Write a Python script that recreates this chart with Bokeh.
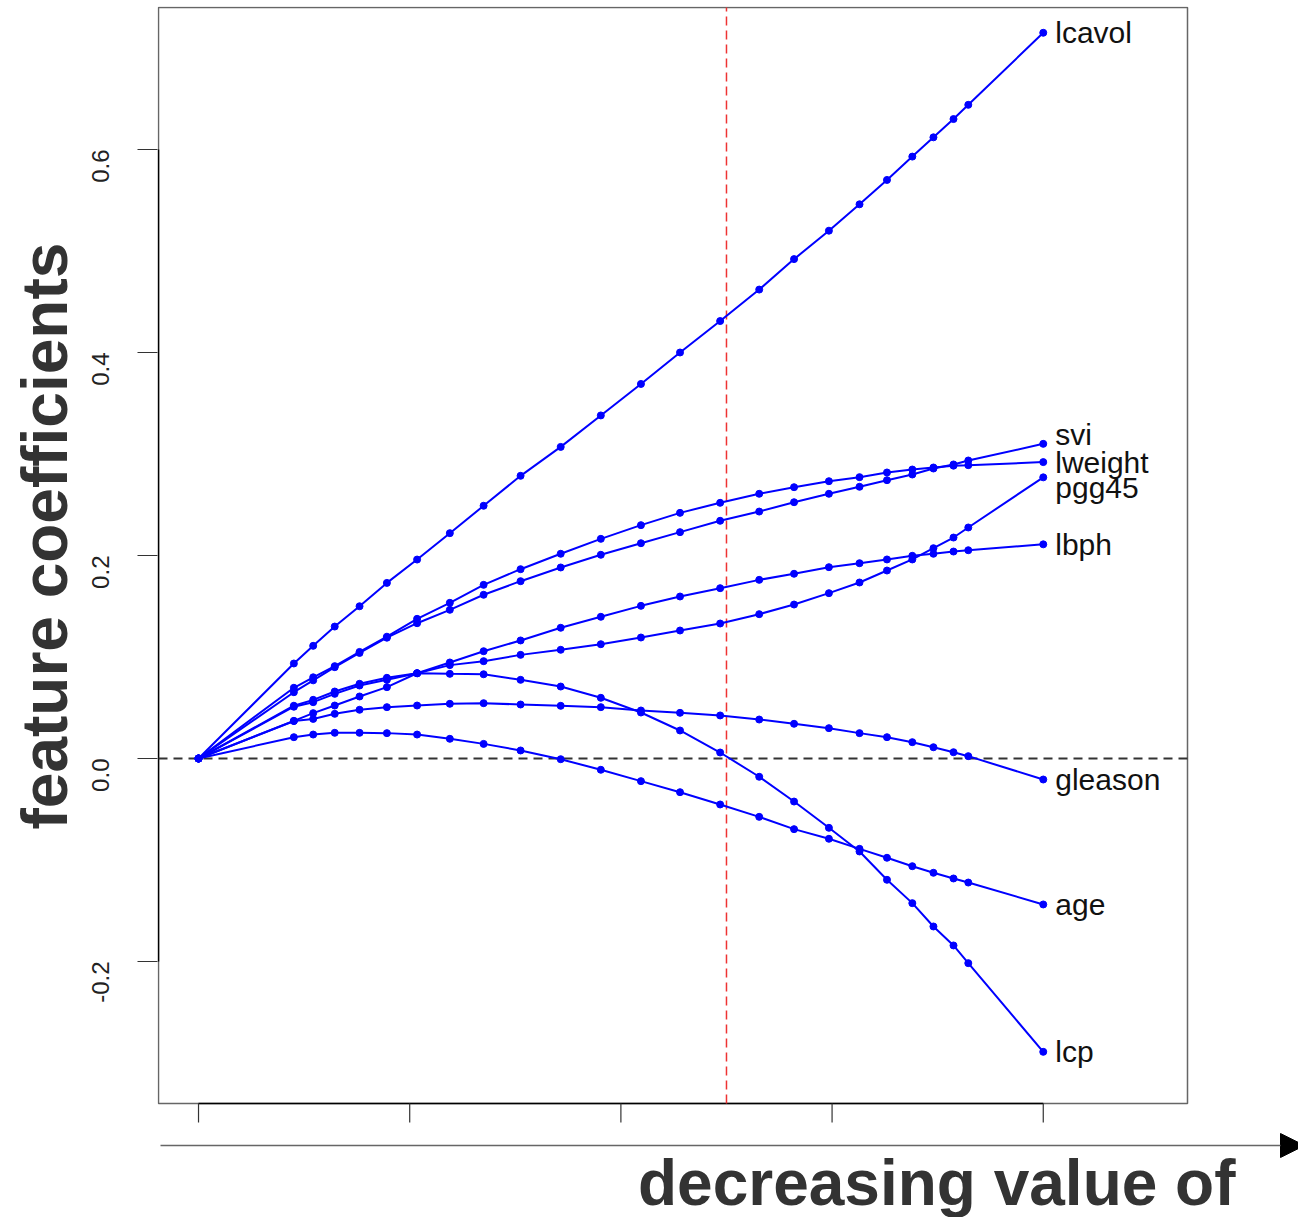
import math
from bokeh.plotting import figure
from bokeh.models import (Range1d, FixedTicker, PrintfTickFormatter, Title,
                          Arrow, NormalHead)
from bokeh.core.properties import value
from bokeh.embed import file_html
from bokeh.resources import INLINE

# effective degrees of freedom at each ridge step
df = [0, 0.903, 1.086, 1.29, 1.525, 1.784, 2.07, 2.38, 2.70, 3.05, 3.43, 3.81,
      4.19, 4.56, 4.94, 5.31, 5.64, 5.97, 6.26, 6.52, 6.76, 6.96, 7.15, 7.29, 8.0]

lcavol = [0, 0.0936, 0.111, 0.130, 0.150, 0.173, 0.196, 0.222, 0.249, 0.2785, 0.307, 0.338,
          0.369, 0.400, 0.431, 0.462, 0.492, 0.520, 0.546, 0.570, 0.593, 0.612, 0.630, 0.644, 0.715]
svi = [0, 0.0653, 0.077, 0.090, 0.104, 0.119, 0.1333, 0.1465, 0.1613, 0.1747, 0.1882, 0.2007,
       0.2121, 0.2230, 0.2342, 0.2433, 0.2525, 0.2608, 0.2677, 0.2742, 0.2798, 0.2857, 0.2897, 0.2936, 0.310]
lweight = [0, 0.0697, 0.080, 0.091, 0.105, 0.120, 0.1376, 0.1534, 0.1711, 0.1865, 0.2017, 0.2164,
           0.2299, 0.2420, 0.2519, 0.2608, 0.2673, 0.2732, 0.2772, 0.2818, 0.2847, 0.2867, 0.2885, 0.289, 0.292]
pgg45 = [0, 0.051, 0.0555, 0.0637, 0.0719, 0.0775, 0.084, 0.092, 0.0959, 0.1021, 0.1071, 0.1126,
         0.1192, 0.1261, 0.1330, 0.1422, 0.1517, 0.1629, 0.1734, 0.1852, 0.1961, 0.2072, 0.2177, 0.2276, 0.277]
lbph = [0, 0.037, 0.0447, 0.0522, 0.0611, 0.0703, 0.084, 0.0946, 0.1057, 0.1163, 0.1288, 0.1396,
        0.1504, 0.1596, 0.1678, 0.1760, 0.1820, 0.1885, 0.1924, 0.1961, 0.1997, 0.2017, 0.2039, 0.2052, 0.211]
gleason = [0, 0.037, 0.039, 0.044, 0.048, 0.0506, 0.0522, 0.0539, 0.0545, 0.0532, 0.0519, 0.0506,
           0.0473, 0.045, 0.0424, 0.0384, 0.0342, 0.0299, 0.025, 0.021, 0.0161, 0.0111, 0.0062, 0.0023, -0.0207]
age = [0, 0.021, 0.0236, 0.0253, 0.0253, 0.025, 0.0236, 0.0194, 0.0144, 0.0079, -0.0007, -0.0111,
       -0.0223, -0.0332, -0.0453, -0.0575, -0.0696, -0.0791, -0.089, -0.0978, -0.1061, -0.1126, -0.1182, -0.1222, -0.1438]
lcp = [0, 0.052, 0.0578, 0.066, 0.0736, 0.0795, 0.084, 0.0834, 0.083, 0.0775, 0.0709, 0.0598,
       0.0453, 0.0276, 0.0059, -0.018, -0.0424, -0.0683, -0.0916, -0.1195, -0.1425, -0.1655, -0.1842, -0.2016, -0.289]

names = ["lcavol", "svi", "lweight", "pgg45", "lbph", "gleason", "age", "lcp"]
series = [lcavol, svi, lweight, pgg45, lbph, gleason, age, lcp]

y_ticks = [-0.2, 0.0, 0.2, 0.4, 0.6]
x_ticks = [0, 2, 4, 6, 8]
chosen_df = 5.0

# plot box (data limits of the original R plot region)
BOX_X = (-0.379, 9.366)
BOX_Y = (-0.3399, 0.7399)

# label nudges in screen pixels (positive = down)
label_dy = [0, -9, 0, 10, 0, 0, 0, 0]

BLUE = "#0000ff"
FONT = "Liberation Sans"

# pixel geometry of the page
W, H = 1298, 1217
BOX_PX = (158, 1187, 7, 1103)          # left, right, top, bottom of the plot box
FRAME_L, FRAME_T = 157, 6               # drawing frame extends to page right/bottom
sx = (BOX_PX[1] - BOX_PX[0]) / (BOX_X[1] - BOX_X[0])
sy = (BOX_PX[3] - BOX_PX[2]) / (BOX_Y[1] - BOX_Y[0])


def px2x(px):
    return BOX_X[0] + (px - BOX_PX[0]) / sx


def px2y(py):
    return BOX_Y[1] - (py - BOX_PX[2]) / sy


p = figure(width=W, height=H,
           x_range=Range1d(px2x(FRAME_L), px2x(W)),
           y_range=Range1d(px2y(H), px2y(FRAME_T)),
           output_backend="svg", toolbar_location=None,
           x_axis_location=None,
           min_border_left=FRAME_L, min_border_right=0,
           min_border_top=FRAME_T, min_border_bottom=0)
p.grid.visible = False
p.background_fill_color = "white"
p.border_fill_color = "white"
p.outline_line_color = None

# y axis (ticks + labels; the box edge is drawn separately)
p.yaxis.ticker = FixedTicker(ticks=y_ticks)
p.yaxis.formatter = PrintfTickFormatter(format="%.1f")
p.yaxis.major_label_orientation = math.pi / 2
p.yaxis.major_tick_out = 20
p.yaxis.major_tick_in = 0
p.yaxis.minor_tick_line_color = None
p.yaxis.axis_line_color = None
p.yaxis.major_tick_line_color = "#333333"
p.yaxis.major_tick_line_width = 1.2
p.yaxis.major_label_text_font = FONT
p.yaxis.major_label_text_font_size = "24px"
p.yaxis.major_label_text_color = "#222222"
p.yaxis.major_label_standoff = 37

# plot box
p.quad(left=[BOX_X[0]], right=[BOX_X[1]], top=[BOX_Y[1]], bottom=[BOX_Y[0]],
       fill_color=None, line_color="#666666", line_width=1.5)
# axis lines (from first to last tick, like R)
p.segment(x0=[BOX_X[0]], y0=[y_ticks[0]], x1=[BOX_X[0]], y1=[y_ticks[-1]],
          line_color="black", line_width=1.5)
p.segment(x0=[x_ticks[0]], y0=[BOX_Y[0]], x1=[x_ticks[-1]], y1=[BOX_Y[0]],
          line_color="black", line_width=1.5)
# x tick marks below the box
tick_len = 19 / sy
p.segment(x0=x_ticks, y0=[BOX_Y[0]] * len(x_ticks), x1=x_ticks,
          y1=[BOX_Y[0] - tick_len] * len(x_ticks), line_color="#333333", line_width=1.2)

# reference lines
p.segment(x0=[BOX_X[0]], y0=[0], x1=[BOX_X[1]], y1=[0], line_color="#333333",
          line_dash="9 6", line_width=2)
p.segment(x0=[chosen_df], y0=[BOX_Y[0]], x1=[chosen_df], y1=[BOX_Y[1]],
          line_color="#ee3333", line_dash="9 5", line_width=1.5)

for vals in series:
    p.line(df, vals, line_color=BLUE, line_width=2)
    p.scatter(df, vals, size=7, fill_color=BLUE, line_color=BLUE)

ends_x = [df[-1]] * len(series)
ends_y = [s[-1] for s in series]
p.text(x=ends_x, y=ends_y, text=names, x_offset=12, y_offset=label_dy,
       text_font=value(FONT), text_font_size="30px", text_color="#111111",
       text_align="left", text_baseline="middle")

# y axis title
p.add_layout(Title(text="feature coefficients", align="left", offset=H - 829,
                   text_font=FONT, text_font_size="64px", text_font_style="bold",
                   text_color="#333333", standoff=0), "left")

# arrow and caption under the plot
p.add_layout(Arrow(x_start=px2x(160), y_start=px2y(1145), x_end=px2x(1304), y_end=px2y(1145),
                   line_color="#666666", line_width=1.5,
                   end=NormalHead(size=24, fill_color="black", line_color="black")))
p.text(x=[px2x(1235)], y=[px2y(1182)], text=["decreasing value of"],
       text_align="right", text_baseline="middle",
       text_font=value(FONT), text_font_size="64px", text_font_style="bold",
       text_color="#333333")

open("out.html", "w").write(file_html(p, INLINE))
